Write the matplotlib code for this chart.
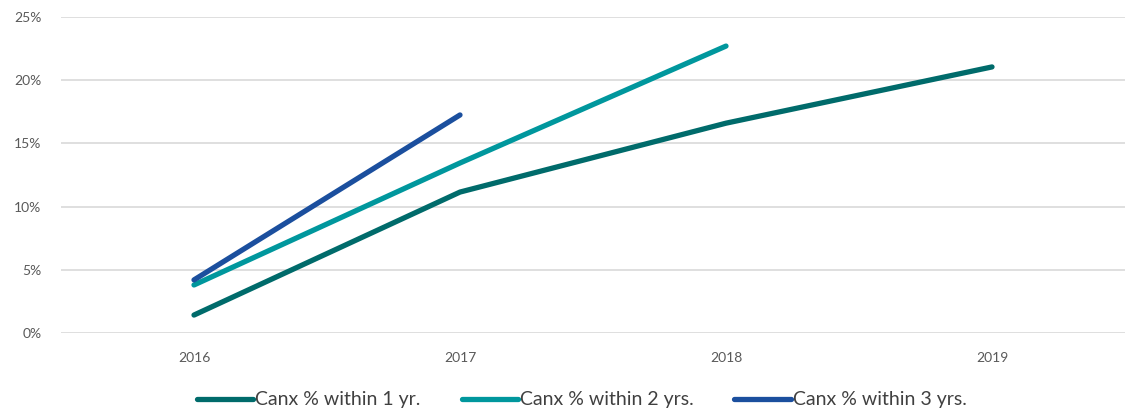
import matplotlib.pyplot as plt
from matplotlib.ticker import PercentFormatter

years = ["2016", "2017", "2018", "2019"]
within_1yr = [0.0142, 0.1115, 0.1660, 0.2105]
within_2yr = [0.0380, 0.1345, 0.2270]
within_3yr = [0.0420, 0.1725]

plt.rcParams["font.family"] = ["Lato", "DejaVu Sans"]

fig = plt.figure(figsize=(11.33, 4.12), dpi=100)
ax = fig.add_axes([61 / 1133, 1 - 333 / 412, 1064 / 1133, 316 / 412])

ax.plot(range(len(within_1yr)), within_1yr, color="#006B6B", lw=3.8,
        solid_capstyle="round", label="Canx % within 1 yr.")
ax.plot(range(len(within_2yr)), within_2yr, color="#00979D", lw=3.8,
        solid_capstyle="round", label="Canx % within 2 yrs.")
ax.plot(range(len(within_3yr)), within_3yr, color="#1B4F9E", lw=3.8,
        solid_capstyle="round", label="Canx % within 3 yrs.")

ax.set_xlim(-0.5, 3.5)
ax.set_ylim(0, 0.25)
ax.set_xticks(range(len(years)))
ax.set_xticklabels(years)
ax.set_yticks([0, 0.05, 0.10, 0.15, 0.20, 0.25])
ax.yaxis.set_major_formatter(PercentFormatter(1.0, decimals=0))
ax.tick_params(length=0, colors="#595959", labelsize=10)
ax.tick_params(axis="x", pad=14)
ax.tick_params(axis="y", pad=14)
ax.grid(axis="y", color="#D9D9D9", lw=1.2)
ax.set_axisbelow(True)
for s in ax.spines.values():
    s.set_visible(False)

# legend centred under the plot area (slightly right of figure centre)
fig.legend(loc="center", bbox_to_anchor=(0.5135, 1 - 400 / 412), ncol=3,
           frameon=False, fontsize=14, handlelength=2.9, handletextpad=0.1,
           columnspacing=2.1, labelcolor="#404040")

plt.savefig("out.png")
